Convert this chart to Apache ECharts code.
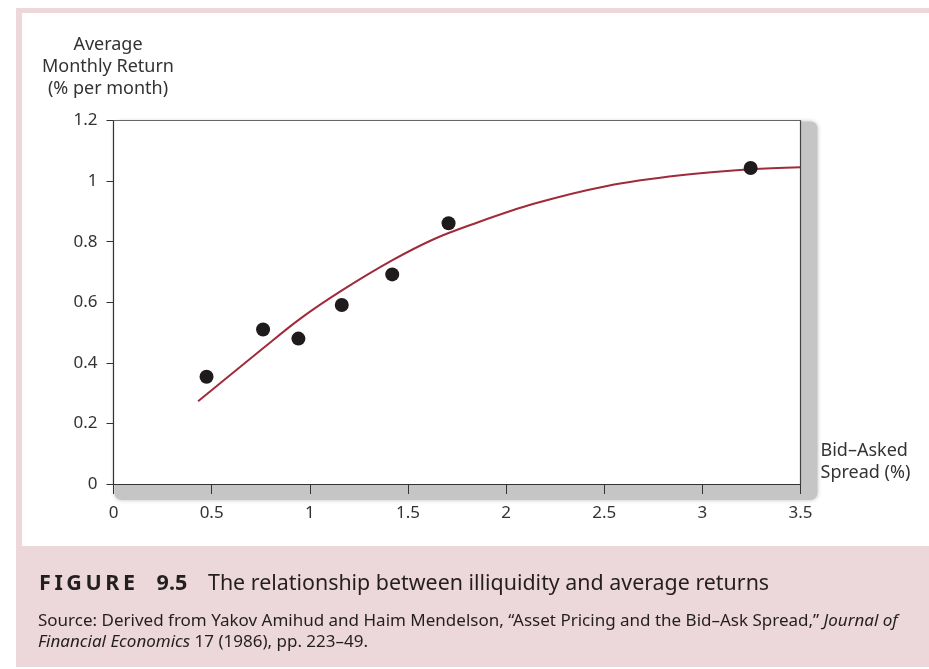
<!DOCTYPE html>
<html>
<head>
<meta charset="utf-8">
<script src="https://cdn.jsdelivr.net/npm/echarts@6/dist/echarts.min.js"></script>
<style>
html,body{margin:0;padding:0;background:#fff;}
#c{width:929px;height:669px;}
</style>
</head>
<body>
<div id="c"></div>
<script>
// Observed data points: bid-asked spread (%) vs average monthly return (% per month)
var spreadPoints = [0.474, 0.762, 0.942, 1.163, 1.420, 1.707, 3.246];
var returnPoints = [0.354, 0.510, 0.480, 0.591, 0.692, 0.861, 1.043];

// Fitted curve
var curveX = [0.431, 0.762, 0.952, 1.164, 1.419, 1.631, 1.818, 2.141, 2.515, 2.889, 3.246, 3.5];
var curveY = [0.273, 0.448, 0.546, 0.639, 0.738, 0.808, 0.855, 0.925, 0.984, 1.019, 1.039, 1.046];

var xTicks = {min: 0, max: 3.5, step: 0.5};
var yTicks = {min: 0, max: 1.2, step: 0.2};

var yAxisTitle = 'Average\nMonthly Return\n(% per month)';
var xAxisTitle = 'Bid\u2013Asked\nSpread (%)';
var figLabel = 'F\u2006I\u2006G\u2006U\u2006R\u2006E\u20039.5';
var figTitle = 'The relationship between illiquidity and average returns';
var srcLine1 = 'Source: Derived from Yakov Amihud and Haim Mendelson, \u201CAsset Pricing and the Bid\u2013Ask Spread,\u201D {i|Journal of}';
var srcLine2 = '{i|Financial Economics} 17 (1986), pp. 223\u201349.';

var FONT = '"Noto Sans", "Open Sans", sans-serif';
var pink = '#eed7da';
var ink = '#231f20';

var chart = echarts.init(document.getElementById('c'), null, {renderer: 'canvas'});

var scatterData = spreadPoints.map(function (x, i) { return [x, returnPoints[i]]; });
var curveData = curveX.map(function (x, i) { return [x, curveY[i]]; });

var G = {left: 113.5, top: 120.5, width: 687, height: 363.5};

chart.setOption({
  animation: false,
  backgroundColor: '#fff',
  textStyle: {fontFamily: FONT},
  grid: {
    left: G.left, top: G.top, width: G.width, height: G.height,
    show: true, backgroundColor: '#fff', borderWidth: 0, z: 1
  },
  xAxis: [{
    type: 'value', min: xTicks.min, max: xTicks.max, interval: xTicks.step,
    axisLine: {show: true, lineStyle: {color: '#333', width: 1.2}},
    axisTick: {show: true, inside: false, length: 10, lineStyle: {color: '#333', width: 1}},
    axisLabel: {color: '#333', fontSize: 17, fontFamily: FONT, margin: 21},
    splitLine: {show: false},
    name: xAxisTitle, nameLocation: 'end', nameGap: 20,
    nameTextStyle: {color: '#333', fontSize: 18, fontFamily: FONT, align: 'left', verticalAlign: 'bottom', lineHeight: 22, padding: [0, 0, 0, 0]},
    z: 5
  }, {
    type: 'value', position: 'top', min: xTicks.min, max: xTicks.max, interval: xTicks.step,
    axisLine: {show: true, onZero: false, lineStyle: {color: '#666', width: 1}},
    axisTick: {show: false}, axisLabel: {show: false}, splitLine: {show: false}, z: 5
  }],
  yAxis: [{
    type: 'value', min: yTicks.min, max: yTicks.max, interval: yTicks.step,
    axisLine: {show: true, lineStyle: {color: '#333', width: 1.2}},
    axisTick: {show: true, inside: false, length: 7, lineStyle: {color: '#333', width: 1}},
    axisLabel: {color: '#333', fontSize: 17, fontFamily: FONT, margin: 16},
    splitLine: {show: false},
    name: yAxisTitle, nameLocation: 'end', nameGap: 21,
    nameTextStyle: {color: '#333', fontSize: 18, fontFamily: FONT, align: 'center', verticalAlign: 'bottom', lineHeight: 22, padding: [0, 11, 0, 0]},
    z: 5
  }, {
    type: 'value', position: 'right', min: yTicks.min, max: yTicks.max, interval: yTicks.step,
    axisLine: {show: true, onZero: false, lineStyle: {color: '#444', width: 1.2}},
    axisTick: {show: false}, axisLabel: {show: false}, splitLine: {show: false}, z: 5
  }],
  series: [
    {
      type: 'line', data: curveData, smooth: 0.35, showSymbol: false, symbol: 'none',
      lineStyle: {color: '#a02b3b', width: 2}, z: 3
    },
    {
      type: 'scatter', data: scatterData, symbolSize: 14,
      itemStyle: {color: '#1f1b1c', opacity: 1}, z: 4
    }
  ],
  graphic: [
    {type: 'rect', shape: {x: 16, y: 8, width: 913, height: 5}, style: {fill: pink}, silent: true, z: -1},
    {type: 'rect', shape: {x: 16, y: 8, width: 6, height: 540}, style: {fill: pink}, silent: true, z: -1},
    {type: 'rect', shape: {x: 16, y: 546, width: 913, height: 121}, style: {fill: '#ecd7da'}, silent: true, z: -1},
    // drop shadow band behind the plot frame
    {type: 'rect', z: -1, silent: true,
      shape: {x: G.left + 1, y: G.top + 1, width: G.width + 16, height: G.height + 15, r: 7},
      style: {fill: '#c5c5c5', shadowBlur: 4, shadowColor: 'rgba(0,0,0,0.25)'}},
    {type: 'text', x: 39, y: 595, silent: true,
      style: {text: figLabel, fill: ink, font: 'bold 21.5px ' + FONT, textVerticalAlign: 'bottom'}},
    {type: 'text', x: 208, y: 594, silent: true,
      style: {text: figTitle, fill: ink, font: '21.4px ' + FONT, textVerticalAlign: 'bottom'}},
    {type: 'text', x: 38, y: 630, silent: true,
      style: {text: srcLine1, fill: ink, font: '17px ' + FONT, textVerticalAlign: 'bottom',
        rich: {i: {fontStyle: 'italic', fontSize: 17, fontFamily: FONT, fill: ink}}}},
    {type: 'text', x: 38, y: 651, silent: true,
      style: {text: srcLine2, fill: ink, font: '17px ' + FONT, textVerticalAlign: 'bottom',
        rich: {i: {fontStyle: 'italic', fontSize: 17, fontFamily: FONT, fill: ink}}}}
  ]
});
</script>
</body>
</html>
